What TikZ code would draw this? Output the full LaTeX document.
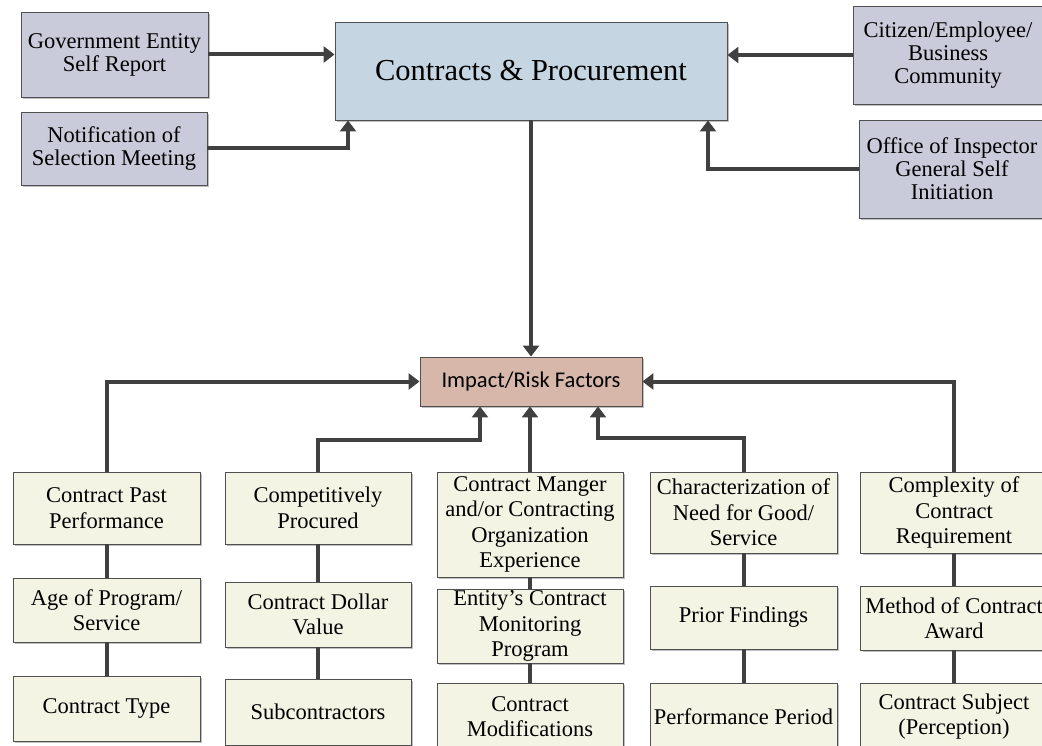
\documentclass[tikz,border=0pt]{standalone}
\usepackage{fontspec}
\setmainfont{Liberation Serif}
\newfontfamily\calib{Carlito}
\usetikzlibrary{arrows.meta,shadows}
\definecolor{sidefill}{RGB}{201,203,218}
\definecolor{cpfill}{RGB}{197,213,226}
\definecolor{impfill}{RGB}{214,183,170}
\definecolor{botfill}{RGB}{243,244,228}
\definecolor{linec}{RGB}{64,64,64}
\definecolor{borderc}{RGB}{80,80,80}
\tikzset{
  box/.style={draw=borderc, line width=0.9pt, inner sep=0pt, align=center,
    drop shadow={shadow xshift=2pt, shadow yshift=-2pt, fill=black, opacity=0.25}},
  sidebox/.style={box, fill=sidefill, font=\fontsize{22.5}{23}\selectfont},
  botbox/.style={box, fill=botfill, font=\fontsize{22.5}{25.5}\selectfont},
  arr/.style={draw=linec, line width=4pt, -{Triangle[width=16pt,length=11pt]}},
  link/.style={draw=linec, line width=4pt}
}
\begin{document}
\begin{tikzpicture}[x=1pt,y=-1pt]
\useasboundingbox (0,0) rectangle (1042,746);
\clip (0,0) rectangle (1042,746);
\fill[white] (0,0) rectangle (1042,746);
% top
\node[sidebox, minimum width=187pt, minimum height=85pt] (gov) at (114.5,54.5) {Government Entity\\Self Report};
\node[sidebox, minimum width=186pt, minimum height=73pt] (notif) at (114,148.5) {Notification of\\Selection Meeting};
\node[box, fill=cpfill, minimum width=392pt, minimum height=98pt, font=\fontsize{30.5}{34}\selectfont] (cp) at (531,71) {Contracts \& Procurement};
\node[sidebox, minimum width=190pt, minimum height=98pt] (cit) at (948,55) {Citizen/Employee/\\Business\\Community};
\node[sidebox, minimum width=186pt, minimum height=98pt] (off) at (952,169) {Office of Inspector\\General Self\\Initiation};
\node[box, fill=impfill, minimum width=222pt, minimum height=49pt, font=\calib\fontsize{22.5}{25}\selectfont] (imp) at (531,381.5) {Impact/Risk Factors};
% column 1
\node[botbox, minimum width=187pt, minimum height=72pt] (a1) at (106.5,508) {Contract Past\\Performance};
\node[botbox, minimum width=187pt, minimum height=64pt] (a2) at (106.5,610) {Age of Program/\\Service};
\node[botbox, minimum width=187pt, minimum height=65pt] (a3) at (106.5,708.5) {Contract Type};
% column 2
\node[botbox, minimum width=186pt, minimum height=72pt] (b1) at (318,508) {Competitively\\Procured};
\node[botbox, minimum width=186pt, minimum height=65pt] (b2) at (318,614.5) {Contract Dollar\\Value};
\node[botbox, minimum width=186pt, minimum height=66pt] (b3) at (318,712) {Subcontractors};
% column 3
\node[botbox, minimum width=186pt, minimum height=105pt] (c1) at (530,524.5) {Contract Manger\\and/or Contracting\\Organization\\Experience};
\node[botbox, minimum width=186pt, minimum height=74pt] (c2) at (530,626) {Entity’s Contract\\Monitoring\\Program};
\node[botbox, minimum width=186pt, minimum height=67pt] (c3) at (530,716.5) {Contract\\Modifications};
% column 4
\node[botbox, minimum width=187pt, minimum height=81pt] (d1) at (743.5,512.5) {Characterization of\\Need for Good/\\Service};
\node[botbox, minimum width=187pt, minimum height=63pt] (d2) at (743.5,617.5) {Prior Findings};
\node[botbox, minimum width=187pt, minimum height=67pt] (d3) at (743.5,716.5) {Performance Period};
% column 5
\node[botbox, minimum width=187pt, minimum height=81pt] (e1) at (954,512.5) {Complexity of\\Contract\\Requirement};
\node[botbox, minimum width=187pt, minimum height=64pt] (e2) at (954,618) {Method of Contract\\Award};
\node[botbox, minimum width=187pt, minimum height=67pt] (e3) at (954,716.5) {Contract Subject\\(Perception)};
% top connectors
\draw[arr] (gov.east) -- (gov.east -| cp.west);
\draw[arr] (notif.east) -| ([xshift=-183pt]cp.south);
\draw[arr] (cit.west) -- (cit.west -| cp.east);
\draw[arr] (off.west) -| ([xshift=177pt]cp.south);
\draw[arr] (cp.south) -- (imp.north);
% bottom connectors
\draw[arr] (a1.north) |- (imp.west);
\draw[arr] (e1.north) |- (imp.east);
\draw[arr] (b1.north) -- ++(0,-32) -| ([xshift=-51pt]imp.south);
\draw[arr] (c1.north) -- (c1.north |- imp.south);
\draw[arr] (d1.north) -- ++(0,-34) -| ([xshift=67pt]imp.south);
% column links
\draw[link] (a1.south) -- (a2.north);
\draw[link] (a2.south) -- (a3.north);
\draw[link] (b1.south) -- (b2.north);
\draw[link] (b2.south) -- (b3.north);
\draw[link] (c1.south) -- (c2.north);
\draw[link] (c2.south) -- (c3.north);
\draw[link] (d1.south) -- (d2.north);
\draw[link] (d2.south) -- (d3.north);
\draw[link] (e1.south) -- (e2.north);
\draw[link] (e2.south) -- (e3.north);
\end{tikzpicture}
\end{document}
